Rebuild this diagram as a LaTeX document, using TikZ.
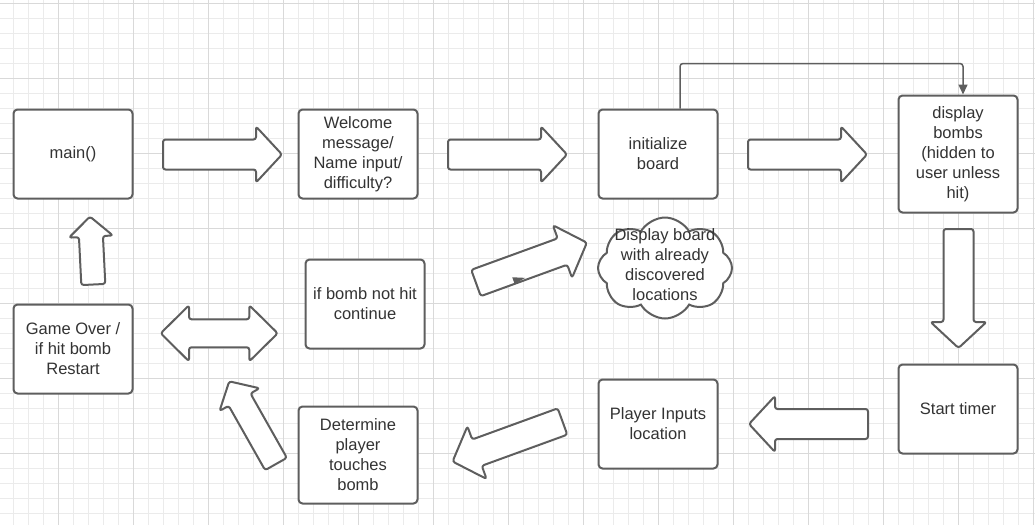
\documentclass[tikz,border=0pt]{standalone}
\usepackage{fontspec}
\setmainfont{Liberation Sans}
\usetikzlibrary{arrows.meta,shapes.symbols}

\definecolor{linegray}{HTML}{5E5E5E}
\definecolor{textgray}{HTML}{333333}
\definecolor{gridminor}{HTML}{EBEBEB}
\definecolor{gridmajor}{HTML}{D9D9D9}

\tikzset{
  minorline/.style={gridminor,line width=1pt},
  majorline/.style={gridmajor,line width=1.3pt},
  txt/.style={align=center,text=textgray,font=\fontsize{16.5}{20}\selectfont},
  box/.style={txt,draw=linegray,line width=2pt,rounded corners=4pt,fill=white,
    minimum width=119,minimum height=89},
  cloudshape/.style={cloud,cloud puffs=8,cloud puff arc=120,cloud ignores aspect,
    draw=linegray,line width=2pt,fill=white,inner sep=0pt,
    minimum width=134,minimum height=101},
  barrow/.style={draw=linegray,line width=2pt,fill=white,rounded corners=2.5pt,line join=round},
  conn/.style={draw=linegray,line width=1.5pt,rounded corners=3pt,-{Triangle[length=10pt,width=9pt]}}
}

% block arrow: tail centre, angle, length, half shaft, half head
\newcommand{\blockarrow}[5]{%
  \draw[barrow,shift={(#1)},rotate=#2]
    (0,-#4) -- ({#3-#5+2},-#4) -- ({#3-#5+2},-#5) -- (#3,0)
    -- ({#3-#5+2},#5) -- ({#3-#5+2},#4) -- (0,#4) -- cycle;}

\begin{document}
\begin{tikzpicture}[x=1pt,y=-1pt]
  \useasboundingbox (0,0) rectangle (1035,525);
  \fill[white] (0,0) rectangle (1035,525);

  % grid
  \foreach \k in {0,...,68}
    \draw[minorline] ({13.3+15*\k},0) -- ({13.3+15*\k},525);
  \foreach \k in {0,...,34}
    \draw[minorline] (0,{3.3+15*\k}) -- (1035,{3.3+15*\k});
  \foreach \k in {0,...,13}
    \draw[majorline] ({58.3+75*\k},0) -- ({58.3+75*\k},525);
  \foreach \k in {0,...,6}
    \draw[majorline] (0,{3.3+75*\k}) -- (1035,{3.3+75*\k});

  % steps
  \node[box] (main) at (73,154) {main()};
  \node[box] (welcome) at (358,154) {Welcome\\message/\\Name input/\\difficulty?};
  \node[box] (init) at (658,154) {initialize\\board};
  \node[box,minimum height=117] (bombs) at (958,154) {display\\bombs\\(hidden to\\user unless\\hit)};
  \node[box] (timer) at (958,409) {Start timer};
  \node[box] (input) at (658,424) {Player Inputs\\location};
  \node[box,minimum height=97] (determine) at (358,455) {Determine\\player\\touches\\bomb};
  \node[box] (nothit) at (365,304) {if bomb not hit\\continue};
  \node[box] (gameover) at (73,349) {Game Over /\\if hit bomb\\Restart};
  \node[cloudshape] (board) at (665,268) {};
  \node[txt] (boardtext) at ([yshift=3pt]board.center) {Display board\\with already\\discovered\\locations};

  \draw[conn] ([xshift=22pt]init.north) -- ++(0,-45) -| ([xshift=5pt]bombs.north);

  % block arrows
  \blockarrow{163,154.5}{0}{119}{15}{28}
  \blockarrow{448,154.5}{0}{119}{15}{28}
  \blockarrow{748,154.5}{0}{119}{15}{28}
  \blockarrow{958.5,229}{-90}{119}{15}{28}
  \blockarrow{868,424}{180}{119}{15}{28}
  \blockarrow{562.5,421.5}{200}{117}{14}{28}
  \blockarrow{276,464}{119.5}{95}{12.5}{23}
  \blockarrow{93.3,284.5}{92.8}{68}{12}{22}
  \blockarrow{476,283}{20}{118}{14}{28}
  \fill[linegray,shift={(476,283)},rotate=20] (36,14) -- (36,7) -- (48,12) -- cycle;
  \draw[barrow] (160.7,333.3) -- (189,305.3) -- (189,319.3) -- (249.3,319.3) -- (249.3,305.3)
    -- (277.7,333.3) -- (249.3,361.3) -- (249.3,347.3) -- (189,347.3) -- (189,361.3) -- cycle;
\end{tikzpicture}
\end{document}
